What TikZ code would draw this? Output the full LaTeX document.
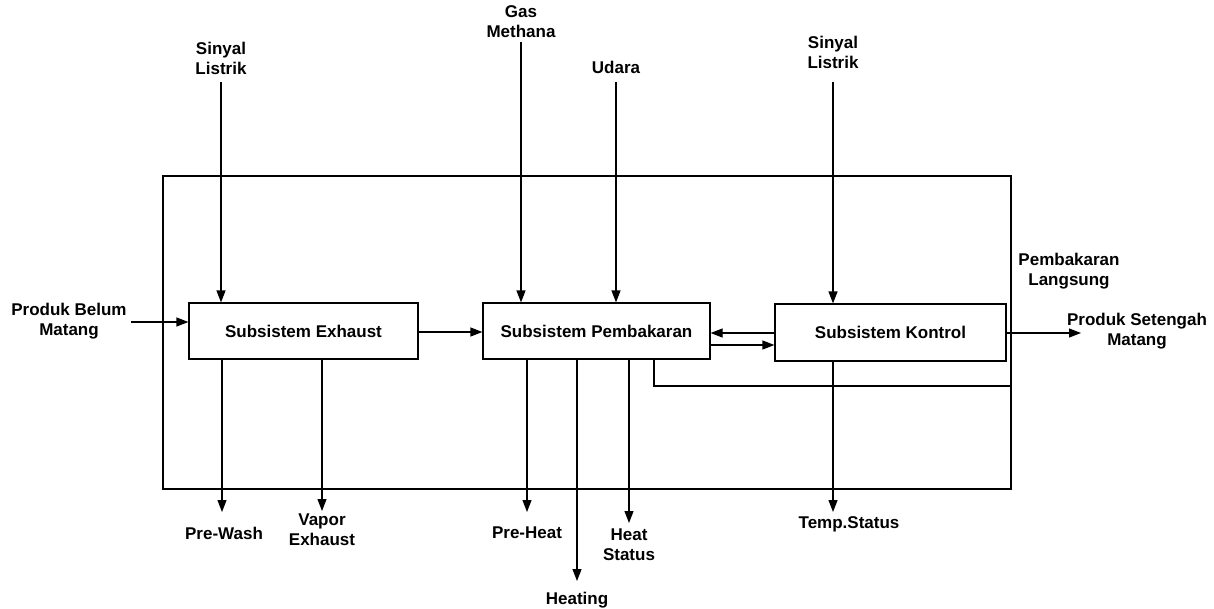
\documentclass[tikz,border=0pt]{standalone}
\usepackage{fontspec}
\setmainfont{Liberation Sans}
\usetikzlibrary{arrows.meta}
\begin{document}
\begin{tikzpicture}[x=1pt,y=-1pt,
  line width=1.2pt,
  font=\bfseries\fontsize{17}{20}\selectfont,
  arr/.style={-{Triangle[length=12pt,width=9pt]}},
  sub/.style={draw,minimum height=56pt,inner sep=0pt},
  lbl/.style={align=center,inner sep=0pt}]
\useasboundingbox (0,0) rectangle (1214,608);
% outer frame
\node[draw,minimum width=848pt,minimum height=313pt,inner sep=0pt] (outer) at (587,332.5) {};
% subsystems
\node[sub,minimum width=229pt] (ex) at (303.5,331) {Subsistem Exhaust};
\node[sub,minimum width=227pt] (pb) at (596.5,331) {Subsistem Pembakaran};
\node[sub,minimum width=231pt,minimum height=57pt] (kt) at (890.5,332.5) {Subsistem Kontrol};
% labels
\node[lbl] (sl1) at (221,58) {Sinyal\\Listrik};
\node[lbl] (gas) at (521,22) {Gas\\Methana};
\node[lbl] (udr) at (616,67) {Udara};
\node[lbl] (sl2) at (833,52) {Sinyal\\Listrik};
\node[lbl] (pbm) at (69,321) {Produk Belum\\Matang};
\node[lbl] (psm) at (1137,331) {Produk Setengah\\Matang};
\node[lbl] (pl) at (1069,271) {Pembakaran\\Langsung};
\node[lbl] (pw) at (224,533) {Pre-Wash};
\node[lbl] (ve) at (322,530) {Vapor\\Exhaust};
\node[lbl] (ph) at (527,533) {Pre-Heat};
\node[lbl] (hs) at (629,545) {Heat\\Status};
\node[lbl] (ht) at (577,600) {Heating};
\node[lbl] (ts) at (849,524) {Temp.Status};
% end points
\coordinate (pwE) at (222,512);
\coordinate (veE) at (322,511);
\coordinate (phE) at (527,512);
\coordinate (htE) at (577,581);
\coordinate (hsE) at (629,523);
\coordinate (tsE) at (833,512);
\coordinate (inL) at (131,322);
\coordinate (outR) at (1081,333);
\coordinate (fbA) at (654,359);
\coordinate (fbB) at (654,386);
% inputs
\draw[arr] (sl1.south |- 0,82) -- (sl1.south |- ex.north);
\draw[arr] (gas.south |- 0,42) -- (gas.south |- pb.north);
\draw[arr] (udr.south |- 0,82) -- (udr.south |- pb.north);
\draw[arr] (sl2.south |- 0,82) -- (sl2.south |- kt.north);
\draw[arr] (inL) -- (inL -| ex.west);
% internal
\draw[arr] (ex.east |- 0,332) -- (pb.west |- 0,332);
\draw[arr] (kt.west |- 0,333) -- (pb.east |- 0,333);
\draw[arr] (pb.east |- 0,345) -- (kt.west |- 0,345);
\draw (fbA) -- (fbB) -- (fbB -| outer.east);
% outputs
\draw[arr] (kt.east |- outR) -- (outR);
\draw[arr] (pwE |- ex.south) -- (pwE);
\draw[arr] (veE |- ex.south) -- (veE);
\draw[arr] (phE |- pb.south) -- (phE);
\draw[arr] (htE |- pb.south) -- (htE);
\draw[arr] (hsE |- pb.south) -- (hsE);
\draw[arr] (tsE |- kt.south) -- (tsE);
\end{tikzpicture}
\end{document}
